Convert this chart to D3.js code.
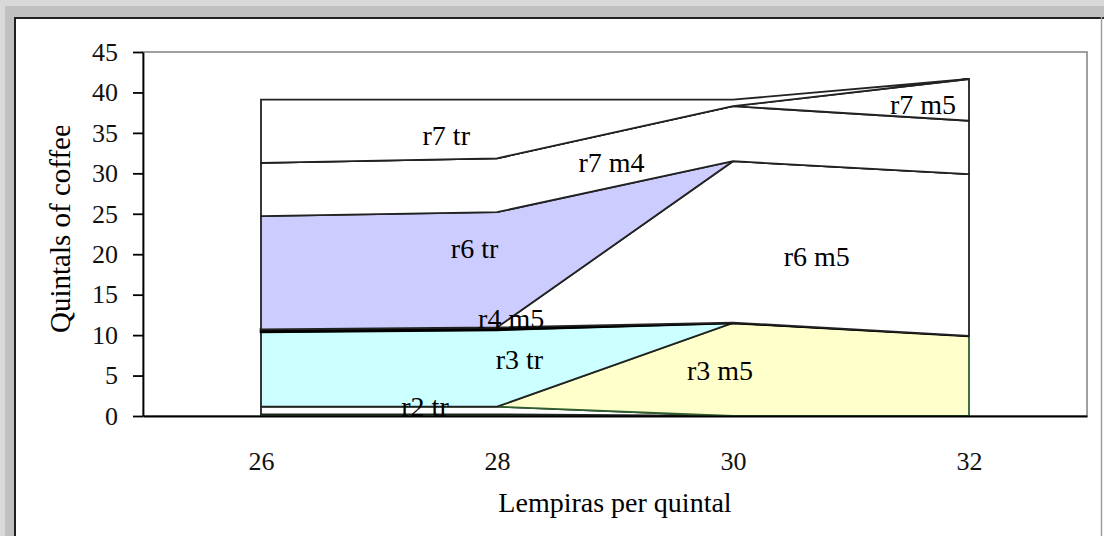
<!DOCTYPE html>
<html>
<head>
<meta charset="utf-8">
<script src="https://cdn.jsdelivr.net/npm/d3@7"></script>
<style>
  html, body { margin: 0; padding: 0; background: #ffffff; }
  svg { display: block; }
</style>
</head>
<body>
<svg id="chart" width="1104" height="536"></svg>
<script>
// ---- data ----
const categories = [26, 28, 30, 32];
const yTicks = [0, 5, 10, 15, 20, 25, 30, 35, 40, 45];
// stacked series, bottom to top
const seriesNames = ["r2 m4", "r2 tr", "r3 m5", "r3 tr", "r4 m5", "r6 m5", "r6 tr", "r7 m4", "r7 m5", "r7 tr"];
const r2m4 = [0.2, 0.2, 0, 0];
const r2tr = [0.95, 0.95, 0, 0];
const r3m5 = [0, 0, 11.5, 9.9];
const r3tr = [9.25, 9.5, 0, 0];
const r4m5 = [0.3, 0.3, 0.05, 0];
const r6m5 = [0, 0, 19.95, 20.0];
const r6tr = [14.0, 14.25, 0, 0];
const r7m4 = [6.6, 6.65, 6.8, 6.6];
const r7m5 = [0, 0, 0, 5.16];
const r7tr = [7.8, 7.25, 0.8, 0];
const seriesValues = [r2m4, r2tr, r3m5, r3tr, r4m5, r6m5, r6tr, r7m4, r7m5, r7tr];
const seriesFill = ["#ffffff", "#ffffff", "#ffffcc", "#ccffff", "#ffffff", "#ffffff", "#ccccff", "#ffffff", "#ffffff", "#ffffff"];
const seriesStroke = ["#2f5f2f", "#222222", "#2f5f2f", "#222222", "#000000", "#222222", "#222222", "#222222", "#222222", "#222222"];
// data labels (series name, position in data units)
const labelText = ["r7 tr", "r7 m4", "r6 tr", "r6 m5", "r4 m5", "r3 tr", "r3 m5", "r2 tr", "r7 m5"];
const labelAtX = [27.57, 28.97, 27.81, 30.71, 28.12, 28.19, 29.89, 27.39, 31.61];
const labelAtY = [34.7, 31.4, 20.8, 19.8, 12.1, 7.05, 5.7, 1.2, 38.6];

// ---- layout ----
const svg = d3.select("#chart");
const W = 1104, H = 536;
const plot = { left: 143, right: 1087, top: 52, bottom: 416 };
const serif = "'Liberation Serif', 'Times New Roman', serif";

// outer window frame
svg.append("rect").attr("x", 0).attr("y", 0).attr("width", W).attr("height", H).attr("fill", "#ffffff");
svg.append("rect").attr("x", 0).attr("y", 0).attr("width", W).attr("height", 17).attr("fill", "#c0c0c0");
svg.append("rect").attr("x", 0).attr("y", 0).attr("width", 15).attr("height", H).attr("fill", "#c0c0c0");
svg.append("rect").attr("x", 0).attr("y", 0).attr("width", W).attr("height", 6).attr("fill", "#d9d9d9");
svg.append("rect").attr("x", 0).attr("y", 0).attr("width", 5).attr("height", H).attr("fill", "#d9d9d9");
svg.append("line").attr("x1", 15).attr("x2", W).attr("y1", 18).attr("y2", 18).attr("stroke", "#202020").attr("stroke-width", 2);
svg.append("line").attr("x1", 15).attr("x2", 15).attr("y1", 17).attr("y2", H).attr("stroke", "#202020").attr("stroke-width", 2);
svg.append("line").attr("x1", 1101.5).attr("x2", 1101.5).attr("y1", 17).attr("y2", H).attr("stroke", "#a0a0a0").attr("stroke-width", 1.5);

// scales
const x = d3.scaleLinear().domain([25, 33]).range([plot.left, plot.right]);
const y = d3.scaleLinear().domain([0, 45]).range([plot.bottom, plot.top]);

// stacked data
const rows = categories.map((c, i) => {
  const r = { cat: c };
  seriesNames.forEach((n, k) => { r[n] = seriesValues[k][i]; });
  return r;
});
const stacked = d3.stack().keys(seriesNames)(rows);

// plot area border
svg.append("rect")
  .attr("x", plot.left).attr("y", plot.top)
  .attr("width", plot.right - plot.left).attr("height", plot.bottom - plot.top)
  .attr("fill", "#ffffff").attr("stroke", "#808080").attr("stroke-width", 1.5);

// areas
const area = d3.area()
  .x(d => x(d.data.cat))
  .y0(d => y(d[0]))
  .y1(d => y(d[1]));

stacked.forEach((s, k) => {
  svg.append("path")
    .attr("d", area(s))
    .attr("fill", seriesFill[k])
    .attr("stroke", seriesStroke[k])
    .attr("stroke-width", k === 4 ? 2.6 : 1.8)
    .attr("stroke-linejoin", "miter");
});

// y axis
const yAxis = d3.axisLeft(y).tickValues(yTicks).tickSize(10).tickSizeOuter(0).tickPadding(15);
const gy = svg.append("g").attr("transform", `translate(${plot.left},0)`).call(yAxis);
gy.select(".domain").attr("stroke", "#000").attr("stroke-width", 1.8);
gy.selectAll(".tick line").attr("stroke", "#000").attr("stroke-width", 1.8);
gy.selectAll(".tick text").attr("font-family", serif).attr("font-size", 26).attr("fill", "#111");

// x axis
const xAxis = d3.axisBottom(x).tickValues(categories).tickSize(0).tickSizeOuter(0).tickPadding(36);
const gx = svg.append("g").attr("transform", `translate(0,${plot.bottom})`).call(xAxis);
gx.select(".domain").attr("stroke", "#000").attr("stroke-width", 1.8);
gx.selectAll(".tick text").attr("font-family", serif).attr("font-size", 26).attr("fill", "#111");

// data labels
svg.append("g").selectAll("text")
  .data(labelText)
  .join("text")
  .attr("x", (d, i) => x(labelAtX[i]))
  .attr("y", (d, i) => y(labelAtY[i]))
  .attr("dy", "0.35em")
  .attr("text-anchor", "middle")
  .attr("font-family", serif)
  .attr("font-size", 28)
  .attr("fill", "#000")
  .text(d => d);

// axis titles
svg.append("text")
  .attr("x", (plot.left + plot.right) / 2)
  .attr("y", 512)
  .attr("text-anchor", "middle")
  .attr("font-family", serif)
  .attr("font-size", 28)
  .attr("fill", "#000")
  .text("Lempiras per quintal");

svg.append("clipPath").attr("id", "ytclip")
  .append("rect").attr("x", 0).attr("y", 126).attr("width", 140).attr("height", 400);
svg.append("g")
  .attr("clip-path", "url(#ytclip)")
  .append("text")
  .attr("transform", "translate(70,333) rotate(-90)")
  .attr("text-anchor", "start")
  .attr("font-family", serif)
  .attr("font-size", 29)
  .attr("fill", "#000")
  .text("Quintals of coffee");
</script>
</body>
</html>
